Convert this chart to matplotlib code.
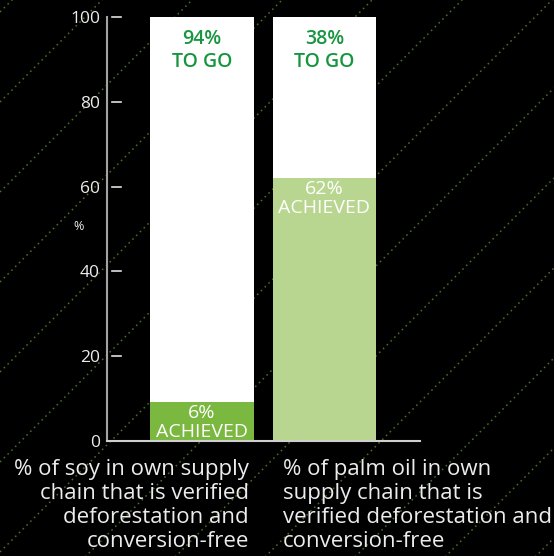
import matplotlib
matplotlib.use("Agg")
import matplotlib.pyplot as plt
import matplotlib.transforms as mtransforms
from matplotlib.lines import Line2D
from matplotlib.path import Path

plt.rcParams["font.family"] = ["Open Sans", "DejaVu Sans"]

# ---- data -------------------------------------------------------------
categories = [
    "% of soy in own supply\nchain that is verified\ndeforestation and\nconversion-free",
    "% of palm oil in own\nsupply chain that is\nverified deforestation and\nconversion-free",
]
achieved = [6, 62]
to_go = [94, 38]
y_ticks = [0, 20, 40, 60, 80, 100]

achieved_colors = ["#7ab83f", "#b9d690"]
to_go_color = "#ffffff"
to_go_text_color = "#17963f"
text_color = "#ececec"

# ---- figure -----------------------------------------------------------
W, H = 554, 556
fig = plt.figure(figsize=(W / 100, H / 100), dpi=100, facecolor="black")

# dotted diagonal pattern in the background (pixel coordinates)
for c in range(12, W + H + 90, 90):
    xs = [0, W]
    ys = [H - c + x for x in xs]
    fig.add_artist(Line2D(xs, ys, transform=None, color="#48692a", lw=1.1,
                          linestyle=(0, (1.1, 2.4)), zorder=-5))

ax = fig.add_axes([107 / W, 1 - 441 / H, (420 - 107) / W, (441 - 17) / H])
ax.set_facecolor("none")

x = list(range(len(categories)))
bw = 0.845
ax.bar(x, achieved, width=bw, color=achieved_colors, zorder=2)
ax.bar(x, to_go, bottom=achieved, width=bw, color=to_go_color, zorder=2)
ax.set_xlim(-0.775, 1.78)
ax.set_ylim(0, 100)

for side in ("top", "right"):
    ax.spines[side].set_visible(False)
ax.spines["left"].set_color("#a3a3a3")
ax.spines["left"].set_linewidth(1.5)
ax.spines["bottom"].set_color("#cfcfcf")
ax.spines["bottom"].set_linewidth(1.5)
ax.spines["left"].set_zorder(4)
ax.spines["bottom"].set_zorder(4)

ax.set_xticks([])
ax.set_yticks(y_ticks)
ax.set_yticklabels([str(t) for t in y_ticks])
ax.tick_params(axis="y", length=0, pad=5, labelsize=12.5, labelcolor=text_color)

# short tick marks set slightly apart from the axis line
tick_tr = mtransforms.blended_transform_factory(ax.transAxes, ax.transData)
for t in y_ticks[1:]:
    ax.plot([0.016, 0.045], [t, t], transform=tick_tr, color="#e0e0e0",
            lw=1.2, clip_on=False, zorder=3)

fig.text(79 / W, 1 - 226 / H, "%", ha="center", va="center", fontsize=9,
         color=text_color)

# ---- value labels -----------------------------------------------------
bar_px = ax.transData.transform((bw, 0))[0] - ax.transData.transform((0, 0))[0]


def label_plate(top_pad=4.0):
    """Box spanning the bar width, from the baseline up to just above the text."""
    def plate(x0, y0, width, height, mutation_size):
        cx = x0 + width / 2
        left, right = cx - bar_px / 2, cx + bar_px / 2
        bottom, top = y0, y0 + height + top_pad
        return Path([(left, bottom), (right, bottom), (right, top),
                     (left, top), (left, bottom)], closed=True)
    return plate


for i in x:
    top = achieved[i] + to_go[i]
    ax.annotate(f"{to_go[i]}%\nTO GO", xy=(i, top), xytext=(0, -9),
                textcoords="offset points", ha="center", va="top",
                fontsize=14, fontweight="semibold", color=to_go_text_color,
                linespacing=1.17, zorder=3)

    label = f"{achieved[i]}%\nACHIEVED"
    if achieved[i] < 12:
        # short segment: sit the label on the baseline on a plate of the bar colour
        ax.text(i, 0, label, ha="center", va="bottom", fontsize=14,
                color="white", linespacing=1.04, zorder=2.2,
                bbox=dict(boxstyle=label_plate(2.0), facecolor=achieved_colors[i],
                          edgecolor="none"))
    else:
        ax.annotate(label, xy=(i, achieved[i]), xytext=(0, -1.5),
                    textcoords="offset points", ha="center", va="top",
                    fontsize=14, color="white", linespacing=1.04, zorder=3)

# ---- category labels --------------------------------------------------
fig.text(249 / W, 1 - 459 / H, categories[0], ha="right", va="top",
         fontsize=16, color=text_color, linespacing=1.19)
fig.text(283 / W, 1 - 459 / H, categories[1], ha="left", va="top",
         fontsize=16, color=text_color, linespacing=1.19)

fig.savefig("out.png", dpi=100, facecolor="black")
